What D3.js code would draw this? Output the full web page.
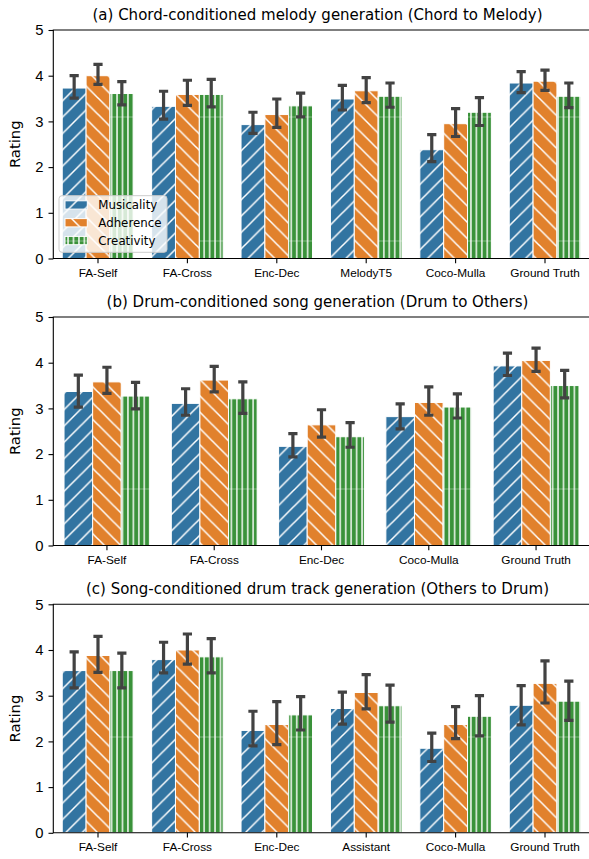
<!DOCTYPE html>
<html>
<head>
<meta charset="utf-8">
<script src="https://cdn.jsdelivr.net/npm/d3@7"></script>
<style>
  body { margin: 0; background: #fff; }
  svg { display: block; font-family: "DejaVu Sans", sans-serif; }
</style>
</head>
<body>
<div id="chart"></div>
<script>
// metric names (hue)
var metrics = ["Musicality", "Adherence", "Creativity"];

// (a) Chord to Melody
var titleA = "(a) Chord-conditioned melody generation (Chord to Melody)";
var catsA = ["FA-Self", "FA-Cross", "Enc-Dec", "MelodyT5", "Coco-Mulla", "Ground Truth"];
var musA = [3.73, 3.33, 2.93, 3.49, 2.38, 3.84];
var musA_lo = [3.51, 3.05, 2.74, 3.25, 2.12, 3.63];
var musA_hi = [4.00, 3.66, 3.20, 3.79, 2.71, 4.09];
var adhA = [4.00, 3.59, 3.15, 3.67, 2.95, 3.88];
var adhA_lo = [3.81, 3.35, 2.87, 3.41, 2.67, 3.68];
var adhA_hi = [4.25, 3.90, 3.49, 3.96, 3.28, 4.12];
var creA = [3.61, 3.59, 3.34, 3.55, 3.20, 3.55];
var creA_lo = [3.36, 3.32, 3.10, 3.31, 2.91, 3.30];
var creA_hi = [3.87, 3.92, 3.62, 3.84, 3.52, 3.84];

// (b) Drum to Others
var titleB = "(b) Drum-conditioned song generation (Drum to Others)";
var catsB = ["FA-Self", "FA-Cross", "Enc-Dec", "Coco-Mulla", "Ground Truth"];
var musB = [3.37, 3.11, 2.17, 2.82, 3.93];
var musB_lo = [3.03, 2.85, 1.94, 2.55, 3.72];
var musB_hi = [3.73, 3.43, 2.45, 3.10, 4.21];
var adhB = [3.58, 3.62, 2.64, 3.13, 4.05];
var adhB_lo = [3.33, 3.36, 2.37, 2.85, 3.81];
var adhB_hi = [3.90, 3.92, 2.97, 3.47, 4.32];
var creB = [3.27, 3.21, 2.38, 3.03, 3.50];
var creB_lo = [2.99, 2.89, 2.15, 2.79, 3.23];
var creB_hi = [3.57, 3.58, 2.69, 3.32, 3.83];

// (c) Others to Drum
var titleC = "(c) Song-conditioned drum track generation (Others to Drum)";
var catsC = ["FA-Self", "FA-Cross", "Enc-Dec", "Assistant", "Coco-Mulla", "Ground Truth"];
var musC = [3.55, 3.79, 2.24, 2.72, 1.85, 2.79];
var musC_lo = [3.17, 3.50, 1.90, 2.38, 1.56, 2.36];
var musC_hi = [3.96, 4.17, 2.66, 3.08, 2.18, 3.22];
var adhC = [3.88, 4.00, 2.37, 3.07, 2.37, 3.27];
var adhC_lo = [3.51, 3.69, 1.93, 2.71, 2.06, 2.84];
var adhC_hi = [4.30, 4.35, 2.87, 3.46, 2.76, 3.76];
var creC = [3.55, 3.85, 2.58, 2.78, 2.55, 2.88];
var creC_lo = [3.17, 3.50, 2.25, 2.42, 2.12, 2.46];
var creC_hi = [3.93, 4.25, 2.98, 3.23, 3.00, 3.32];

var yTicks = [0, 1, 2, 3, 4, 5];

var W = 589, H = 859;
var colors = ["#3274a1", "#e1812c", "#3a923a"];
var hatchIds = ["hatch-fwd", "hatch-back", "hatch-vert"];

var svg = d3.select("#chart").append("svg")
    .attr("width", W)
    .attr("height", H);

// hatch patterns in figure pixel space (like matplotlib)
var defs = svg.append("defs");
var p = 98 / 6;
var fwd = defs.append("pattern").attr("id", "hatch-fwd")
    .attr("patternUnits", "userSpaceOnUse")
    .attr("width", p).attr("height", p);
fwd.append("rect").attr("width", p).attr("height", p).attr("fill", colors[0]);
fwd.append("path")
    .attr("d", "M0," + p + "L" + p + ",0M" + (-p / 2) + "," + (p / 2) + "L" + (p / 2) + "," + (-p / 2) +
               "M" + (p / 2) + "," + (p * 1.5) + "L" + (p * 1.5) + "," + (p / 2))
    .attr("stroke", "#fff").attr("stroke-width", 1.5);

var back = defs.append("pattern").attr("id", "hatch-back")
    .attr("patternUnits", "userSpaceOnUse")
    .attr("width", p).attr("height", p);
back.append("rect").attr("width", p).attr("height", p).attr("fill", colors[1]);
back.append("path")
    .attr("d", "M0,0L" + p + "," + p + "M" + (p / 2) + "," + (-p / 2) + "L" + (p * 1.5) + "," + (p / 2) +
               "M" + (-p / 2) + "," + (p / 2) + "L" + (p / 2) + "," + (p * 1.5))
    .attr("stroke", "#fff").attr("stroke-width", 1.5);

var pv = 98 / 18;
var vert = defs.append("pattern").attr("id", "hatch-vert")
    .attr("patternUnits", "userSpaceOnUse")
    .attr("width", pv).attr("height", 124);
vert.append("rect").attr("width", pv).attr("height", 124).attr("fill", colors[2]);
vert.append("line")
    .attr("x1", pv / 2).attr("x2", pv / 2).attr("y1", 0).attr("y2", 124)
    .attr("stroke", "#fff").attr("stroke-width", 1.4);
vert.append("line")
    .attr("x1", 0).attr("x2", pv).attr("y1", 117).attr("y2", 117)
    .attr("stroke", "#fff").attr("stroke-opacity", 0.35).attr("stroke-width", 1);

var left = 53.3, right = 589.7, plotH = 228.5;

function drawPanel(top, title, cats, vals, lows, highs, legend)
{
    var x = d3.scaleBand().domain(cats).range([left, right]).paddingInner(0).paddingOuter(0);
    var xSub = d3.scaleBand().domain(metrics).range([0, x.bandwidth() * 0.8]);
    var y = d3.scaleLinear().domain([0, 5]).range([top + plotH, top]);

    var g = svg.append("g");

    metrics.forEach(function(m, mi) {
        var rows = cats.map(function(c, i) {
            return {cat: c, v: vals[mi][i], lo: lows[mi][i], hi: highs[mi][i]};
        });
        var off = x.bandwidth() * 0.1;

        g.selectAll(".bar" + mi).data(rows).enter().append("rect")
            .attr("x", d => x(d.cat) + off + xSub(m))
            .attr("y", d => y(d.v))
            .attr("width", xSub.bandwidth())
            .attr("height", d => y(0) - y(d.v))
            .attr("fill", "url(#" + hatchIds[mi] + ")")
            .attr("stroke", "#fff")
            .attr("stroke-width", 1);

        var cx = d => x(d.cat) + off + xSub(m) + xSub.bandwidth() / 2;
        var cap = 4.6;
        g.selectAll(".err" + mi).data(rows).enter().append("path")
            .attr("d", d => "M" + cx(d) + "," + y(d.lo) + "V" + y(d.hi) +
                            "M" + (cx(d) - cap) + "," + y(d.hi) + "H" + (cx(d) + cap) +
                            "M" + (cx(d) - cap) + "," + y(d.lo) + "H" + (cx(d) + cap))
            .attr("fill", "none")
            .attr("stroke", "#424242")
            .attr("stroke-width", 3.2);
    });

    // axes
    var yAxis = g.append("g")
        .attr("transform", "translate(" + left + ",0)")
        .call(d3.axisLeft(y).tickValues(yTicks).tickFormat(d3.format("d")).tickSize(4.8).tickPadding(5));
    yAxis.selectAll("text").attr("font-size", 14.8).attr("fill", "#000");
    yAxis.selectAll("line").attr("stroke", "#000").attr("stroke-width", 1.1);
    yAxis.select(".domain").remove();

    var xAxis = g.append("g")
        .attr("transform", "translate(0," + (top + plotH) + ")")
        .call(d3.axisBottom(x).tickSize(4.8).tickPadding(5));
    xAxis.selectAll("text").attr("font-size", 11.8).attr("fill", "#000");
    xAxis.selectAll("line").attr("stroke", "#000").attr("stroke-width", 1.1);
    xAxis.select(".domain").remove();

    // spines
    g.append("path")
        .attr("d", "M" + right + "," + top + "H" + left + "V" + (top + plotH) + "H" + right + "V" + top)
        .attr("fill", "none")
        .attr("stroke", "#000")
        .attr("stroke-width", 1.1);

    g.append("text")
        .attr("x", (left + right) / 2 - 4)
        .attr("y", top - 10)
        .attr("text-anchor", "middle")
        .attr("font-size", 15)
        .text(title);

    g.append("text")
        .attr("transform", "translate(20," + (top + plotH / 2) + ") rotate(-90)")
        .attr("text-anchor", "middle")
        .attr("font-size", 14.8)
        .text("Rating");

    if (legend) {
        var lx = 59, ly = 195.7;
        var lg = g.append("g");
        lg.append("rect")
            .attr("x", lx).attr("y", ly)
            .attr("width", 108).attr("height", 56.6)
            .attr("rx", 3)
            .attr("fill", "#fff").attr("fill-opacity", 0.8)
            .attr("stroke", "#cccccc").attr("stroke-width", 1);
        metrics.forEach(function(m, mi) {
            var ry = ly + 9.3 + mi * 17.8;
            lg.append("rect")
                .attr("x", lx + 6).attr("y", ry - 4.2)
                .attr("width", 22.3).attr("height", 8.3)
                .attr("fill", "url(#" + hatchIds[mi] + ")")
                .attr("stroke", "#fff").attr("stroke-width", 1);
            lg.append("text")
                .attr("x", lx + 39.3).attr("y", ry + 4.2)
                .attr("font-size", 11.8)
                .text(m);
        });
    }
}

drawPanel(30, titleA, catsA, [musA, adhA, creA], [musA_lo, adhA_lo, creA_lo], [musA_hi, adhA_hi, creA_hi], true);
drawPanel(317, titleB, catsB, [musB, adhB, creB], [musB_lo, adhB_lo, creB_lo], [musB_hi, adhB_hi, creB_hi], false);
drawPanel(604.3, titleC, catsC, [musC, adhC, creC], [musC_lo, adhC_lo, creC_lo], [musC_hi, adhC_hi, creC_hi], false);
</script>
</body>
</html>
